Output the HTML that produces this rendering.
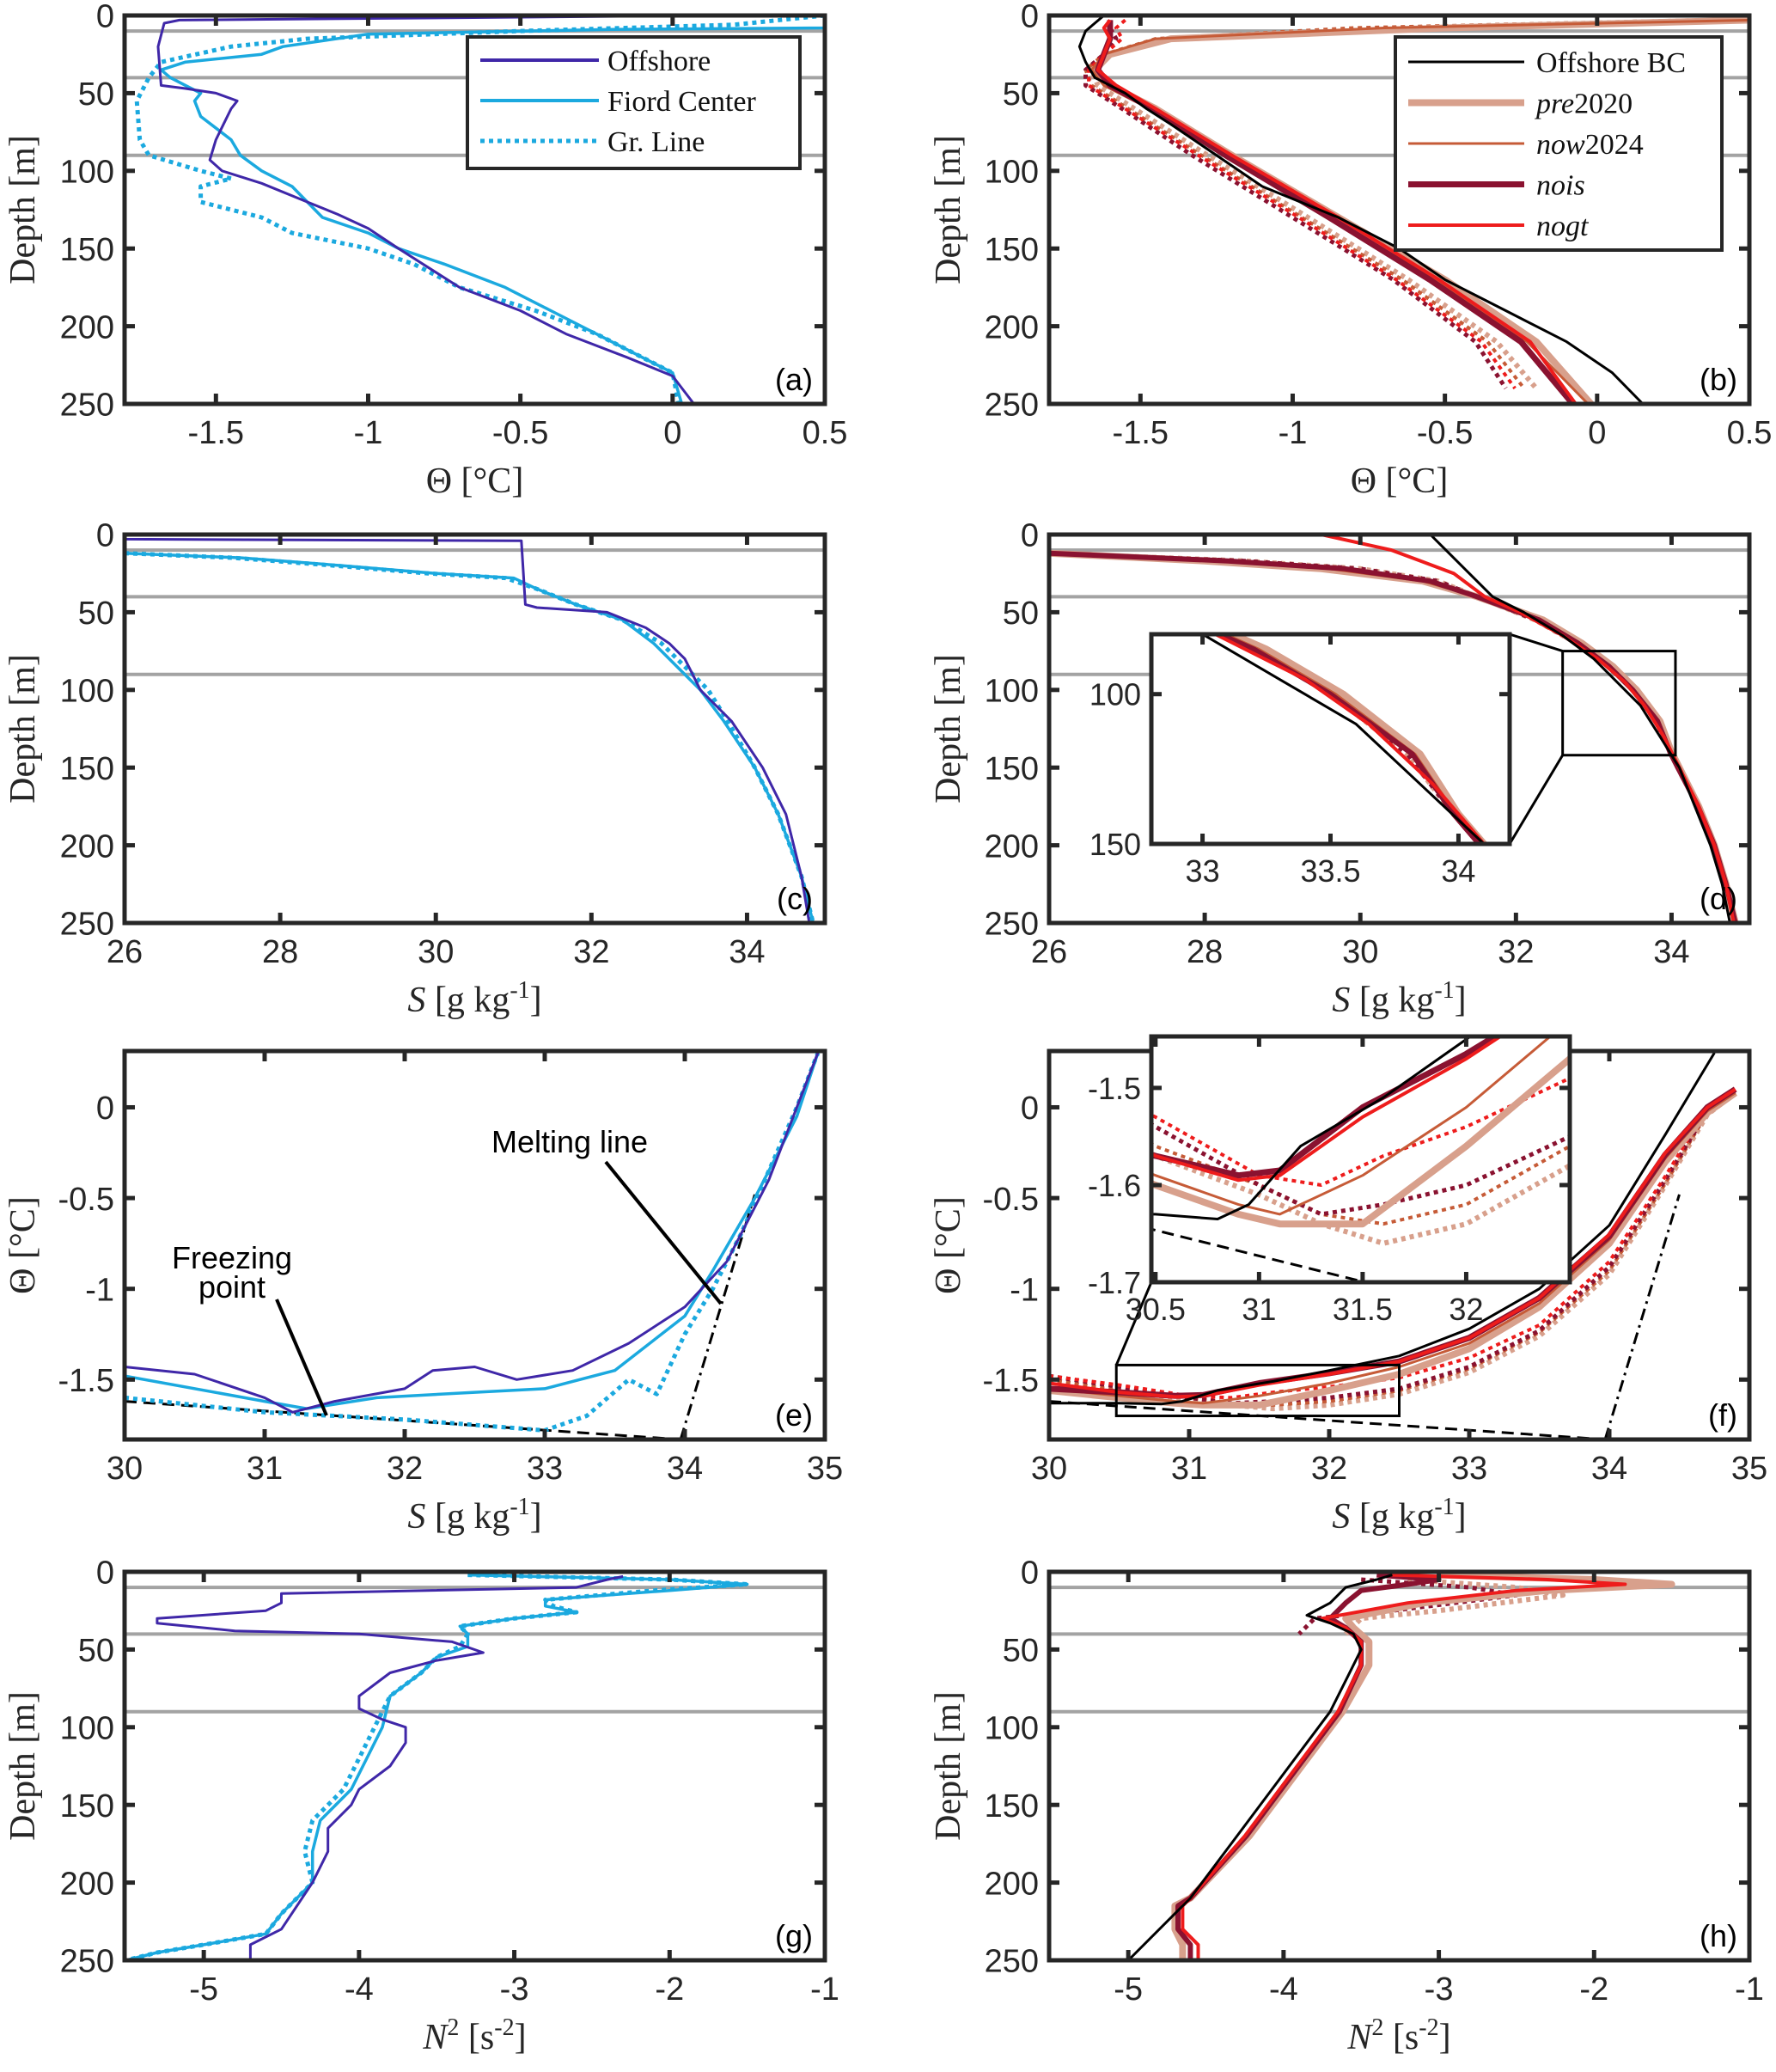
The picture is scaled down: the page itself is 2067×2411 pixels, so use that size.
<!DOCTYPE html>
<html><head><meta charset="utf-8"><style>
html,body{margin:0;padding:0;background:#fff}
svg text{font-family:"Liberation Sans",sans-serif}
.serif{font-family:"Liberation Serif",serif}
</style></head><body>
<svg id="fig" xmlns="http://www.w3.org/2000/svg" width="2067" height="2406" viewBox="0 0 2067 2406"></svg>
<script>
// ---------- DATA ----------
const aOffD=[0,3,5,20,45,47,50,55,60,80,93,100,108,120,128,137,150,165,175,190,205,220,232,250];
const aOffT=[0.15,-1.62,-1.67,-1.69,-1.68,-1.6,-1.5,-1.43,-1.45,-1.5,-1.52,-1.48,-1.35,-1.2,-1.1,-1.0,-0.9,-0.78,-0.7,-0.5,-0.35,-0.15,0,0.07];
const aFcD=[0,8,9,12,20,25,30,35,40,45,50,55,65,80,90,100,110,120,130,140,150,160,175,190,205,220,230,250];
const aFcT=[0.5,0.5,-0.2,-1.0,-1.28,-1.35,-1.6,-1.68,-1.65,-1.6,-1.55,-1.57,-1.55,-1.45,-1.42,-1.35,-1.25,-1.2,-1.15,-1.0,-0.9,-0.75,-0.55,-0.4,-0.25,-0.1,0,0.03];
const aGlD=[0,6,10,15,20,30,40,55,80,90,100,105,110,120,130,140,150,160,175,190,205,220,230,250];
const aGlT=[0.5,0.2,-0.5,-1.2,-1.45,-1.68,-1.72,-1.76,-1.75,-1.72,-1.55,-1.45,-1.55,-1.55,-1.35,-1.25,-1.0,-0.85,-0.7,-0.45,-0.25,-0.1,0,0.02];
const bD=[0,10,20,30,40,50,60,70,90,110,130,150,170,190,210,230,250];
const bBC=[-1.62,-1.68,-1.7,-1.68,-1.65,-1.55,-1.48,-1.4,-1.25,-1.1,-0.85,-0.65,-0.5,-0.3,-0.1,0.05,0.15];
const bPreD=[3,8,15,25,35,45,60,90,130,170,210,250];
const bPre=[0.5,-0.5,-1.4,-1.6,-1.65,-1.6,-1.45,-1.2,-0.85,-0.5,-0.2,-0.02];
const bNow=[0.5,-0.7,-1.45,-1.62,-1.66,-1.62,-1.47,-1.22,-0.88,-0.53,-0.23,-0.03];
const bNois=[-1.6,-1.6,-1.6,-1.62,-1.64,-1.6,-1.46,-1.22,-0.88,-0.55,-0.25,-0.08];
const bNogt=[-1.6,-1.62,-1.6,-1.62,-1.64,-1.58,-1.45,-1.2,-0.85,-0.52,-0.22,-0.07];
const bDotD=[3,8,15,25,35,45,60,90,130,170,210,240];
const bPreDot=[0.5,-0.6,-1.4,-1.6,-1.66,-1.64,-1.52,-1.28,-0.95,-0.62,-0.33,-0.2];
const bNowDot=[0.3,-0.8,-1.45,-1.62,-1.68,-1.66,-1.54,-1.3,-0.97,-0.64,-0.36,-0.24];
const bNoisDot=[-1.6,-1.6,-1.58,-1.62,-1.68,-1.68,-1.56,-1.33,-1.0,-0.67,-0.4,-0.3];
const bNogtDot=[-1.55,-1.58,-1.56,-1.62,-1.67,-1.67,-1.55,-1.31,-0.98,-0.66,-0.38,-0.27];
const cOffD=[0,3,4,45,47,50,60,70,80,90,100,120,150,180,220,250];
const cOffS=[26,26,31.1,31.15,31.3,32.2,32.7,33.0,33.2,33.3,33.4,33.8,34.2,34.5,34.7,34.8];
const cFcD=[12,15,20,25,28,35,45,55,70,90,100,120,150,180,220,250];
const cFcS=[26,27.5,28.8,30,31,31.3,31.8,32.4,32.8,33.2,33.4,33.7,34.1,34.4,34.7,34.85];
const cGlS=[26,27.4,28.7,29.9,30.9,31.3,31.8,32.4,32.9,33.3,33.5,33.75,34.1,34.4,34.7,34.85];
const dBCD=[0,10,25,40,50,65,80,95,110,130,150,175,200,225,250];
const dBC=[30.9,31.1,31.4,31.7,32.1,32.6,33.0,33.3,33.6,33.85,34.1,34.3,34.5,34.65,34.75];
const dNogtD=[0,10,25,40,50,65,80,95,110,130,150,175,200,225,250];
const dNogt=[29.5,30.4,31.2,31.6,32.05,32.6,33.05,33.4,33.65,33.9,34.1,34.35,34.55,34.7,34.8];
const dScD=[12,17,22,30,40,55,70,85,100,120,140,150,175,200,225,250];
const dPre=[26,28,29.5,30.8,31.5,32.35,32.85,33.25,33.55,33.85,34.0,34.1,34.35,34.55,34.7,34.82];
const dNow=[26,28.1,29.6,30.8,31.5,32.33,32.83,33.22,33.52,33.83,33.99,34.09,34.34,34.55,34.7,34.82];
const dNois=[26,28.3,29.8,30.9,31.5,32.3,32.8,33.2,33.5,33.82,33.98,34.08,34.34,34.55,34.7,34.82];
const dDot=[26,28.5,30.0,31.0,31.5,32.25,32.78,33.2,33.5,33.8,33.98,34.08,34.34,34.55,34.7,34.8];
const eOffS=[30,30.5,31.0,31.2,31.5,32,32.2,32.5,32.8,33.2,33.6,34.0,34.3,34.6,34.8,34.95];
const eOffT=[-1.43,-1.47,-1.6,-1.68,-1.62,-1.55,-1.45,-1.43,-1.5,-1.45,-1.3,-1.1,-0.85,-0.4,0,0.3];
const eFcS=[30,31,31.3,31.8,32.5,33,33.5,34,34.2,34.5,34.8,34.95];
const eFcT=[-1.48,-1.62,-1.66,-1.6,-1.57,-1.55,-1.45,-1.15,-0.9,-0.5,-0.05,0.3];
const eGlS=[30,31,32,33,33.3,33.6,33.8,34.0,34.2,34.4,34.6,34.8,34.95];
const eGlT=[-1.6,-1.68,-1.72,-1.78,-1.7,-1.5,-1.58,-1.25,-1.0,-0.7,-0.35,0,0.3];
const frzS=[30,33.97]; const frzT=[-1.62,-1.83];
const mltS=[33.97,34.5]; const mltT=[-1.83,-0.48];
const fBCS=[30,30.5,30.8,30.95,31.2,31.6,32,32.5,33,33.5,34,34.4,34.75];
const fBCT=[-1.63,-1.63,-1.635,-1.62,-1.56,-1.51,-1.45,-1.37,-1.22,-1.0,-0.65,-0.15,0.3];
const fScS=[30,30.5,30.9,31.1,31.5,32,32.5,33,33.5,34,34.4,34.7,34.9];
const fNogt=[-1.52,-1.57,-1.595,-1.59,-1.53,-1.47,-1.4,-1.27,-1.05,-0.7,-0.25,0.0,0.1];
const fNois=[-1.55,-1.57,-1.59,-1.585,-1.52,-1.465,-1.4,-1.27,-1.05,-0.71,-0.26,0.0,0.1];
const fNow=[-1.55,-1.59,-1.62,-1.63,-1.59,-1.52,-1.43,-1.3,-1.08,-0.73,-0.28,-0.02,0.08];
const fPre=[-1.56,-1.6,-1.63,-1.64,-1.64,-1.56,-1.47,-1.33,-1.1,-0.75,-0.3,-0.03,0.08];
const fDotS=[30,30.5,31,31.3,31.6,32,32.5,33,33.5,34,34.4,34.7,34.9];
const fNogtDot=[-1.48,-1.53,-1.59,-1.6,-1.57,-1.54,-1.49,-1.38,-1.2,-0.85,-0.38,0.0,0.1];
const fNoisDot=[-1.48,-1.54,-1.6,-1.63,-1.62,-1.6,-1.55,-1.43,-1.23,-0.88,-0.4,-0.02,0.08];
const fNowDot=[-1.5,-1.56,-1.6,-1.63,-1.64,-1.62,-1.56,-1.44,-1.24,-0.9,-0.42,-0.03,0.08];
const fPreDot=[-1.5,-1.57,-1.61,-1.64,-1.66,-1.64,-1.58,-1.46,-1.26,-0.92,-0.43,-0.04,0.08];
const gOffD=[3,5,10,14,20,25,30,33,38,40,45,52,57,65,80,88,95,100,110,125,140,150,165,180,200,215,230,240,250];
const gOffN=[-2.3,-2.4,-2.6,-4.5,-4.5,-4.6,-5.3,-5.3,-4.8,-4.0,-3.4,-3.2,-3.5,-3.8,-4.0,-4.0,-3.85,-3.7,-3.7,-3.8,-4.0,-4.05,-4.2,-4.2,-4.3,-4.4,-4.5,-4.7,-4.7];
const gFcD=[2,5,8,12,18,22,26,30,35,40,48,55,65,80,100,120,140,160,180,200,220,233,240,245,250];
const gFcN=[-3.3,-2.0,-1.5,-2.0,-2.8,-2.8,-2.6,-3.0,-3.35,-3.3,-3.3,-3.5,-3.6,-3.8,-3.85,-3.95,-4.05,-4.25,-4.3,-4.3,-4.5,-4.6,-5.0,-5.3,-5.5];
const gGlN=[-3.3,-2.0,-1.5,-2.1,-2.8,-2.75,-2.6,-3.0,-3.35,-3.3,-3.35,-3.5,-3.6,-3.8,-3.9,-4.0,-4.1,-4.3,-4.35,-4.3,-4.5,-4.6,-5.0,-5.3,-5.5];
const hBCD=[2,5,10,20,28,33,40,50,70,90,130,170,210,250];
const hBC=[-3.3,-3.4,-3.6,-3.7,-3.85,-3.7,-3.55,-3.5,-3.6,-3.7,-4.0,-4.3,-4.6,-5.0];
const hScD=[2,5,8,12,20,30,36,45,60,90,130,170,210,215,230,240,250];
const hNogt=[-3.3,-2.3,-1.8,-2.5,-3.2,-3.75,-3.6,-3.5,-3.5,-3.65,-3.95,-4.25,-4.6,-4.65,-4.65,-4.55,-4.55];
const hPre=[-3.0,-2.0,-1.5,-2.3,-3.1,-3.6,-3.55,-3.45,-3.45,-3.62,-3.92,-4.22,-4.6,-4.7,-4.7,-4.65,-4.65];
const hNois=[-3.4,-3.0,-3.2,-3.5,-3.6,-3.7,-3.6,-3.5,-3.5,-3.64,-3.94,-4.24,-4.6,-4.68,-4.68,-4.6,-4.6];
const hDotD=[5,10,15,20,25,30,40];
const hDot=[-3.2,-2.5,-2.2,-2.6,-3.0,-3.5,-3.6];

// ---------- DRAWING ----------
const NS="http://www.w3.org/2000/svg";
const svg=document.getElementById('fig');
function mk(tag,attrs,parent){const e=document.createElementNS(NS,tag);for(const k in attrs)e.setAttribute(k,attrs[k]);(parent||svg).appendChild(e);return e;}
let clipN=0;
function axes(x0,y0,w,h,xlim,ylim,flipY){
  const sx=v=>x0+(v-xlim[0])/(xlim[1]-xlim[0])*w;
  const sy=flipY?(v=>y0+(v-ylim[0])/(ylim[1]-ylim[0])*h):(v=>y0+h-(v-ylim[0])/(ylim[1]-ylim[0])*h);
  const id='c'+(clipN++);
  const cp=mk('clipPath',{id:id});mk('rect',{x:x0,y:y0,width:w,height:h},cp);
  const g=mk('g',{'clip-path':'url(#'+id+')'});
  return {sx,sy,g,x0,y0,w,h};
}
function line(ax,xs,ys,color,width,dash,name){
  let d='';for(let i=0;i<xs.length;i++){d+=(i?'L':'M')+ax.sx(xs[i]).toFixed(1)+','+ax.sy(ys[i]).toFixed(1);}
  const p=mk('path',{d:d,fill:'none',stroke:color,'stroke-width':width,'stroke-linejoin':'round'},ax.g);
  if(dash)p.setAttribute('stroke-dasharray',dash);
  
  
  return p;
}
function hgrid(ax,xl,vals){vals.forEach(v=>{const l=mk('line',{x1:ax.x0,x2:ax.x0+ax.w,y1:ax.sy(v),y2:ax.sy(v),stroke:'#a3a3a3','stroke-width':4},ax.g);
  
  });}
function frame(ax,xt,yt,xlab,ylab,fs,pname){
  const r=mk('rect',{x:ax.x0,y:ax.y0,width:ax.w,height:ax.h,fill:'none',stroke:'#262626','stroke-width':5});
  
  
  xt.forEach((v,i)=>{const x=ax.sx(v);
    mk('line',{x1:x,x2:x,y1:ax.y0+ax.h,y2:ax.y0+ax.h-12,stroke:'#262626','stroke-width':5});
    mk('line',{x1:x,x2:x,y1:ax.y0,y2:ax.y0+12,stroke:'#262626','stroke-width':5});
    const t=mk('text',{x:x,y:ax.y0+ax.h+fs+8,'font-size':fs,'text-anchor':'middle',fill:'#262626'});t.textContent=xlab[i];
    
    });
  yt.forEach((v,i)=>{const y=ax.sy(v);
    mk('line',{x1:ax.x0,x2:ax.x0+12,y1:y,y2:y,stroke:'#262626','stroke-width':5});
    mk('line',{x1:ax.x0+ax.w,x2:ax.x0+ax.w-12,y1:y,y2:y,stroke:'#262626','stroke-width':5});
    const t=mk('text',{x:ax.x0-12,y:y+fs*0.36,'font-size':fs,'text-anchor':'end',fill:'#262626'});t.textContent=ylab[i];
    
    });
}
function label(txt,x,y,name){const t=mk('text',{x:x,y:y,'font-size':36,'text-anchor':'end',fill:'#000'});t.textContent=txt;
  
  }
function ylabelTxt(html,x,y,name){const t=mk('text',{x:0,y:0,'font-size':42,'text-anchor':'middle',fill:'#262626','class':'serif',transform:'translate('+x+','+y+') rotate(-90)'});t.innerHTML=html;
  
  }
function xlabelTxt(html,x,y,name){const t=mk('text',{x:x,y:y,'font-size':42,'text-anchor':'middle',fill:'#262626','class':'serif'});t.innerHTML=html;
  
  }

const COLS=[145,1221], W=815, ROWS=[18,622,1223,1829], H=452;
const PURP='#3f27a8', CYAN='#1ba9df';
const C_BC='#000', C_PRE='#d8a08c', C_NOW='#c65b37', C_NOIS='#8a1230', C_NOGT='#ee1c1c';
const DOT='5 5';
const depthT=[0,50,100,150,200,250], depthL=['0','50','100','150','200','250'];
const thT=[-1.5,-1,-0.5,0,0.5], thL=['-1.5','-1','-0.5','0','0.5'];
const sT=[26,28,30,32,34], sL=['26','28','30','32','34'];
const tsxT=[30,31,32,33,34,35], tsxL=['30','31','32','33','34','35'];
const tsyT=[-1.5,-1,-0.5,0], tsyL=['-1.5','-1','-0.5','0'];
const nT=[-5,-4,-3,-2,-1], nL=['-5','-4','-3','-2','-1'];
const THX='Θ [°C]';
const SX='<tspan font-style="italic">S</tspan> [g kg<tspan dy="-16" font-size="28">-1</tspan><tspan dy="16">]</tspan>';
const NX='<tspan font-style="italic">N</tspan><tspan dy="-16" font-size="28">2</tspan><tspan dy="16"> [s</tspan><tspan dy="-16" font-size="28">-2</tspan><tspan dy="16">]</tspan>';

// (a)
let ax=axes(COLS[0],ROWS[0],W,H,[-1.8,0.5],[0,250],true);
hgrid(ax,0,[10,40,90]);
line(ax,aGlT,aGlD,CYAN,5,DOT,'gr-line-theta');
line(ax,aFcT,aFcD,CYAN,3.5,null,'fiord-center-theta');
line(ax,aOffT,aOffD,PURP,3,null,'offshore-theta');
frame(ax,thT,depthT,thL,depthL,38,'panel-a');
label('(a)',ax.x0+ax.w-14,ax.y0+ax.h-16,'panel-a-label');
ylabelTxt('Depth [m]',40,ax.y0+H/2,'panel-a-y-title');
xlabelTxt(THX,ax.x0+W/2,ROWS[0]+H+103,'panel-a-x-title');
{const g=mk('g',{});
 mk('rect',{x:544,y:43,width:387,height:153,fill:'#fff',stroke:'#262626','stroke-width':4},g);
 const items=[['Offshore',PURP,null,4],['Fiord Center',CYAN,null,4],['Gr. Line',CYAN,DOT,5]];
 items.forEach((it,i)=>{const y=70+i*47;const l=mk('line',{x1:559,x2:697,y1:y,y2:y,stroke:it[1],'stroke-width':it[3]},g);if(it[2])l.setAttribute('stroke-dasharray',it[2]);
 const t=mk('text',{x:707,y:y+12,'font-size':34,'class':'serif',fill:'#111'},g);t.textContent=it[0];
 });}

// (b)
ax=axes(COLS[1],ROWS[0],W,H,[-1.8,0.5],[0,250],true);
hgrid(ax,0,[10,40,90]);
line(ax,bPreDot,bDotD,C_PRE,6,DOT,'pre2020-gl-theta');
line(ax,bNowDot,bDotD,C_NOW,4,DOT,'now2024-gl-theta');
line(ax,bNoisDot,bDotD,C_NOIS,5,DOT,'nois-gl-theta');
line(ax,bNogtDot,bDotD,C_NOGT,4,DOT,'nogt-gl-theta');
line(ax,bPre,bPreD,C_PRE,8,null,'pre2020-theta');
line(ax,bNow,bPreD,C_NOW,3,null,'now2024-theta');
line(ax,bNois,bPreD,C_NOIS,7,null,'nois-theta');
line(ax,bNogt,bPreD,C_NOGT,4,null,'nogt-theta');
line(ax,bBC,bD,C_BC,3,null,'offshore-bc-theta');
frame(ax,thT,depthT,thL,depthL,38,'panel-b');
label('(b)',ax.x0+ax.w-14,ax.y0+ax.h-16,'panel-b-label');
ylabelTxt('Depth [m]',1117,ax.y0+H/2,'panel-b-y-title');
xlabelTxt(THX,ax.x0+W/2,ROWS[0]+H+103,'panel-b-x-title');
{const g=mk('g',{});
 mk('rect',{x:1624,y:43,width:380,height:248,fill:'#fff',stroke:'#262626','stroke-width':4},g);
 const items=[['Offshore BC',C_BC,3,false],['pre2020',C_PRE,8,true],['now2024',C_NOW,3,true],['nois',C_NOIS,7,true],['nogt',C_NOGT,4,true]];
 items.forEach((it,i)=>{const y=72+i*47.5;mk('line',{x1:1639,x2:1774,y1:y,y2:y,stroke:it[1],'stroke-width':it[2]},g);
 const t=mk('text',{x:1788,y:y+12,'font-size':34,'class':'serif',fill:'#111'},g);
 if(it[3]){const m=it[0].match(/^([a-z]+)(\d*)$/);t.innerHTML='<tspan font-style="italic">'+m[1]+'</tspan>'+m[2];}else t.textContent=it[0];
 });}

// (c)
ax=axes(COLS[0],ROWS[1],W,H,[26,35],[0,250],true);
hgrid(ax,0,[10,40,90]);
line(ax,cGlS,cFcD,CYAN,5,DOT,'gr-line-salinity');
line(ax,cFcS,cFcD,CYAN,3.5,null,'fiord-center-salinity');
line(ax,cOffS,cOffD,PURP,3,null,'offshore-salinity');
frame(ax,sT,depthT,sL,depthL,38,'panel-c');
label('(c)',ax.x0+ax.w-14,ax.y0+ax.h-16,'panel-c-label');
ylabelTxt('Depth [m]',40,ax.y0+H/2,'panel-c-y-title');
xlabelTxt(SX,ax.x0+W/2,ROWS[1]+H+103,'panel-c-x-title');

// (d)
function dSeries(a){
  line(a,dDot,dScD,C_PRE,6,DOT,'pre2020-gl-salinity');
  line(a,dDot.map(v=>v),dScD,C_NOIS,5,'5 9','nois-gl-salinity');
  line(a,dPre,dScD,C_PRE,8,null,'pre2020-salinity');
  line(a,dNow,dScD,C_NOW,3,null,'now2024-salinity');
  line(a,dNois,dScD,C_NOIS,6,null,'nois-salinity');
  line(a,dNogt,dNogtD,C_NOGT,4,null,'nogt-salinity');
  line(a,dBC,dBCD,C_BC,3,null,'offshore-bc-salinity');
}
ax=axes(COLS[1],ROWS[1],W,H,[26,35],[0,250],true);
hgrid(ax,0,[10,40,90]);
dSeries(ax);
frame(ax,sT,depthT,sL,depthL,38,'panel-d');
label('(d)',ax.x0+ax.w-14,ax.y0+ax.h-16,'panel-d-label');
ylabelTxt('Depth [m]',1117,ax.y0+H/2,'panel-d-y-title');
xlabelTxt(SX,ax.x0+W/2,ROWS[1]+H+103,'panel-d-x-title');
{const zx1=ax.sx(32.6),zx2=ax.sx(34.05),zy1=ax.sy(75),zy2=ax.sy(142);
 const zr=mk('rect',{x:zx1,y:zy1,width:zx2-zx1,height:zy2-zy1,fill:'none',stroke:'#000','stroke-width':3});
 
 mk('line',{x1:1757,y1:738,x2:zx1,y2:zy1,stroke:'#000','stroke-width':3});
 mk('line',{x1:1757,y1:982,x2:zx1,y2:zy2,stroke:'#000','stroke-width':3});
 mk('rect',{x:1340,y:738,width:417,height:244,fill:'#fff'});
 const ia=axes(1340,738,417,244,[32.8,34.2],[80,150],true);
 dSeries(ia);
 frame(ia,[33,33.5,34],[100,150],['33','33.5','34'],['100','150'],36,'inset-d');}

// (e)
ax=axes(COLS[0],ROWS[2],W,H,[30,35],[-1.83,0.31],false);
line(ax,frzS,frzT,'#000',3,'14 8','freezing-line');
line(ax,mltS,mltT,'#000',3,'14 6 3 6','melting-line');
line(ax,eGlS,eGlT,CYAN,5,DOT,'gr-line-ts');
line(ax,eFcS,eFcT,CYAN,3.5,null,'fiord-center-ts');
line(ax,eOffS,eOffT,PURP,3,null,'offshore-ts');
frame(ax,tsxT,tsyT,tsxL,tsyL,38,'panel-e');
label('(e)',ax.x0+ax.w-14,ax.y0+ax.h-16,'panel-e-label');
ylabelTxt('Θ [°C]',40,ax.y0+H/2,'panel-e-y-title');
xlabelTxt(SX,ax.x0+W/2,ROWS[2]+H+103,'panel-e-x-title');
{let t=mk('text',{x:663,y:1341,'font-size':36,'text-anchor':'middle'});t.textContent='Melting line';
 
 mk('line',{x1:705,y1:1352,x2:839,y2:1517,stroke:'#000','stroke-width':4});
 t=mk('text',{x:270,y:1476,'font-size':36,'text-anchor':'middle'});t.textContent='Freezing';
 
 t=mk('text',{x:270,y:1510,'font-size':36,'text-anchor':'middle'});t.textContent='point';
 
 mk('line',{x1:322,y1:1512,x2:380,y2:1647,stroke:'#000','stroke-width':4});}

// (f)
function fSeries(a){
  line(a,frzS,frzT,'#000',3,'14 8','freezing-line');
  line(a,mltS,mltT,'#000',3,'14 6 3 6','melting-line');
  line(a,fDotS,fPreDot,C_PRE,6,DOT,'pre2020-gl-ts');
  line(a,fDotS,fNowDot,C_NOW,4,DOT,'now2024-gl-ts');
  line(a,fDotS,fNoisDot,C_NOIS,5,DOT,'nois-gl-ts');
  line(a,fDotS,fNogtDot,C_NOGT,4,DOT,'nogt-gl-ts');
  line(a,fScS,fPre,C_PRE,8,null,'pre2020-ts');
  line(a,fScS,fNow,C_NOW,3,null,'now2024-ts');
  line(a,fScS,fNois,C_NOIS,7,null,'nois-ts');
  line(a,fScS,fNogt,C_NOGT,4,null,'nogt-ts');
  line(a,fBCS,fBCT,C_BC,3,null,'offshore-bc-ts');
}
ax=axes(COLS[1],ROWS[2],W,H,[30,35],[-1.83,0.31],false);
fSeries(ax);
frame(ax,tsxT,tsyT,tsxL,tsyL,38,'panel-f');
label('(f)',ax.x0+ax.w-14,ax.y0+ax.h-16,'panel-f-label');
ylabelTxt('Θ [°C]',1117,ax.y0+H/2,'panel-f-y-title');
xlabelTxt(SX,ax.x0+W/2,ROWS[2]+H+103,'panel-f-x-title');
{const zx1=ax.sx(30.48),zx2=ax.sx(32.5),zy1=ax.sy(-1.42),zy2=ax.sy(-1.70);
 const zr=mk('rect',{x:zx1,y:zy1,width:zx2-zx1,height:zy2-zy1,fill:'none',stroke:'#000','stroke-width':3});
 
 mk('line',{x1:1340,y1:1492,x2:zx1,y2:zy1,stroke:'#000','stroke-width':3});
 mk('rect',{x:1340,y:1206,width:487,height:286,fill:'#fff'});
 const ia=axes(1340,1206,487,286,[30.48,32.5],[-1.7,-1.447],false);
 fSeries(ia);
 frame(ia,[30.5,31,31.5,32],[-1.7,-1.6,-1.5],['30.5','31','31.5','32'],['-1.7','-1.6','-1.5'],36,'inset-f');}

// (g)
ax=axes(COLS[0],ROWS[3],W,H,[-5.51,-1],[0,250],true);
hgrid(ax,0,[10,40,90]);
line(ax,gGlN,gFcD,CYAN,5,DOT,'gr-line-n2');
line(ax,gFcN,gFcD,CYAN,3.5,null,'fiord-center-n2');
line(ax,gOffN,gOffD,PURP,3,null,'offshore-n2');
frame(ax,nT,depthT,nL,depthL,38,'panel-g');
label('(g)',ax.x0+ax.w-14,ax.y0+ax.h-16,'panel-g-label');
ylabelTxt('Depth [m]',40,ax.y0+H/2,'panel-g-y-title');
xlabelTxt(NX,ax.x0+W/2,ROWS[3]+H+103,'panel-g-x-title');

// (h)
ax=axes(COLS[1],ROWS[3],W,H,[-5.51,-1],[0,250],true);
hgrid(ax,0,[10,40,90]);
line(ax,hDot,hDotD,C_PRE,6,DOT,'pre2020-gl-n2');
line(ax,hDot.map(v=>v-0.3),hDotD,C_NOIS,5,DOT,'nois-gl-n2');
line(ax,hPre,hScD,C_PRE,8,null,'pre2020-n2');
line(ax,hNois,hScD,C_NOIS,6,null,'nois-n2');
line(ax,hNogt,hScD,C_NOGT,4,null,'nogt-n2');
line(ax,hBC,hBCD,C_BC,3,null,'offshore-bc-n2');
frame(ax,nT,depthT,nL,depthL,38,'panel-h');
label('(h)',ax.x0+ax.w-14,ax.y0+ax.h-16,'panel-h-label');
ylabelTxt('Depth [m]',1117,ax.y0+H/2,'panel-h-y-title');
xlabelTxt(NX,ax.x0+W/2,ROWS[3]+H+103,'panel-h-x-title');
</script>
</body></html>
